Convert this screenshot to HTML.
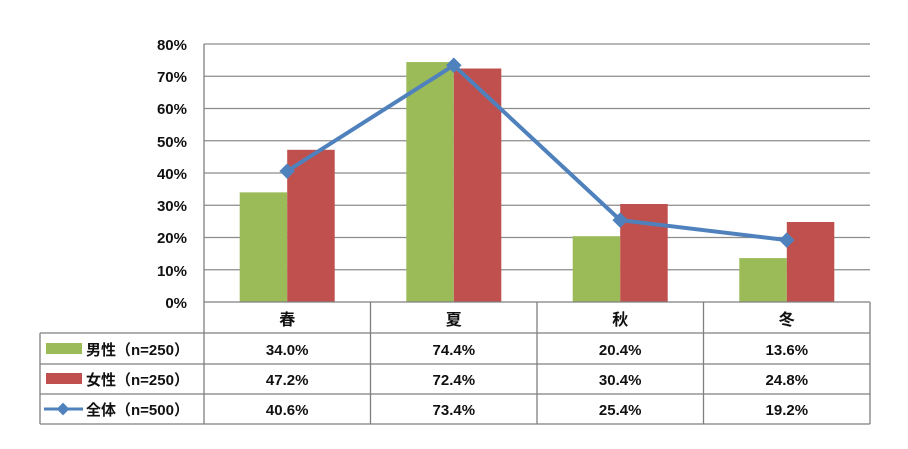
<!DOCTYPE html>
<html><head><meta charset="utf-8"><style>
html,body{margin:0;padding:0;background:#fff;}
svg{display:block;}
text{font-family:"Liberation Sans","Noto Sans CJK JP",sans-serif;font-weight:bold;fill:#111;}
</style></head><body>
<svg width="908" height="449" viewBox="0 0 908 449" xmlns="http://www.w3.org/2000/svg">
<g stroke="#8c8c8c" stroke-width="1.3">
<line x1="204" y1="44" x2="870" y2="44"/>
<line x1="204" y1="76.25" x2="870" y2="76.25"/>
<line x1="204" y1="108.5" x2="870" y2="108.5"/>
<line x1="204" y1="140.75" x2="870" y2="140.75"/>
<line x1="204" y1="173" x2="870" y2="173"/>
<line x1="204" y1="205.25" x2="870" y2="205.25"/>
<line x1="204" y1="237.5" x2="870" y2="237.5"/>
<line x1="204" y1="269.75" x2="870" y2="269.75"/>
</g>
<g font-size="15" text-anchor="end">
<text x="187" y="50">80%</text><text x="187" y="82">70%</text><text x="187" y="114">60%</text>
<text x="187" y="147">50%</text><text x="187" y="179">40%</text><text x="187" y="211">30%</text>
<text x="187" y="243">20%</text><text x="187" y="276">10%</text><text x="187" y="308">0%</text>
</g>
<g fill="#9bbb59">
<rect x="239.7" y="192.35" width="47.5" height="109.65"/>
<rect x="406.3" y="62.06" width="47.5" height="239.94"/>
<rect x="572.7" y="236.2" width="47.5" height="65.8"/>
<rect x="739.3" y="258.1" width="47.5" height="43.9"/>
</g>
<g fill="#c0504d">
<rect x="287.2" y="149.8" width="47.5" height="152.2"/>
<rect x="453.8" y="68.5" width="47.5" height="233.5"/>
<rect x="620.2" y="204" width="47.5" height="98"/>
<rect x="786.8" y="222" width="47.5" height="80"/>
</g>
<polyline points="287.2,171.1 453.8,65.3 620.2,220.1 786.8,240.1" fill="none" stroke="#4f81bd" stroke-width="4" stroke-linejoin="round"/>
<g fill="#4f81bd">
<rect x="-5.5" y="-5.5" width="11" height="11" transform="translate(287.2,171.1) rotate(45)"/>
<rect x="-5.5" y="-5.5" width="11" height="11" transform="translate(453.8,65.3) rotate(45)"/>
<rect x="-5.5" y="-5.5" width="11" height="11" transform="translate(620.2,220.1) rotate(45)"/>
<rect x="-5.5" y="-5.5" width="11" height="11" transform="translate(786.8,240.1) rotate(45)"/>
</g>
<g stroke="#7f7f7f" stroke-width="1.3" fill="none">
<line x1="204" y1="44" x2="204" y2="424"/>
<line x1="204" y1="302" x2="870" y2="302"/>
<line x1="870" y1="302" x2="870" y2="424"/>
<line x1="370.5" y1="302" x2="370.5" y2="424"/>
<line x1="537" y1="302" x2="537" y2="424"/>
<line x1="703.5" y1="302" x2="703.5" y2="424"/>
<line x1="40" y1="333" x2="870" y2="333"/>
<line x1="40" y1="364" x2="870" y2="364"/>
<line x1="40" y1="394" x2="870" y2="394"/>
<line x1="40" y1="424" x2="870" y2="424"/>
<line x1="40" y1="333" x2="40" y2="424"/>
</g>
<g font-size="16" text-anchor="middle">
<text x="287.2" y="325">春</text><text x="453.8" y="325">夏</text><text x="620.2" y="325">秋</text><text x="786.8" y="325">冬</text>
</g>
<g font-size="15" text-anchor="middle">
<text x="287.2" y="355">34.0%</text><text x="453.8" y="355">74.4%</text><text x="620.2" y="355">20.4%</text><text x="786.8" y="355">13.6%</text>
<text x="287.2" y="385">47.2%</text><text x="453.8" y="385">72.4%</text><text x="620.2" y="385">30.4%</text><text x="786.8" y="385">24.8%</text>
<text x="287.2" y="415">40.6%</text><text x="453.8" y="415">73.4%</text><text x="620.2" y="415">25.4%</text><text x="786.8" y="415">19.2%</text>
</g>
<rect x="46" y="343" width="36" height="11" fill="#9bbb59"/>
<rect x="46" y="373" width="36" height="11" fill="#c0504d"/>
<line x1="44" y1="409" x2="83" y2="409" stroke="#4f81bd" stroke-width="3"/>
<rect x="-4.5" y="-4.5" width="9" height="9" fill="#4f81bd" transform="translate(63,409) rotate(45)"/>
<g font-size="15">
<text x="86" y="355">男性（n=250）</text>
<text x="86" y="385">女性（n=250）</text>
<text x="86" y="415">全体（n=500）</text>
</g>
</svg>
</body></html>
